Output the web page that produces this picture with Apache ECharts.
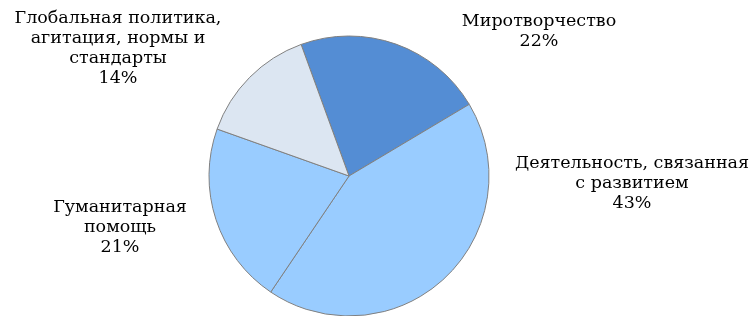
<!DOCTYPE html>
<html>
<head>
<meta charset="utf-8">
<script src="https://cdn.jsdelivr.net/npm/echarts@6/dist/echarts.min.js"></script>
<style>
  html, body { margin: 0; padding: 0; background: #fff; }
  #chart { width: 753px; height: 316px; }
</style>
</head>
<body>
<div id="chart"></div>
<script>
// slices, clockwise from the top
const categories = [
  'Миротворчество',
  'Деятельность, связанная\nс развитием',
  'Гуманитарная\nпомощь',
  'Глобальная политика,\nагитация, нормы и\nстандарты'
];
const shares = [22, 43, 21, 14];
const sliceColors = ['#548dd4', '#99ccff', '#99ccff', '#dce6f2'];

// label anchor (centre of text block) per slice
const labelSpots = [
  [539, 31],
  [632, 183],
  [120, 227],
  [118, 48]
];

const serif = 'DejaVu Serif';

const chart = echarts.init(document.getElementById('chart'));

chart.setOption({
  animation: false,
  textStyle: { fontFamily: serif },
  series: [
    {
      type: 'pie',
      center: [349, 176],
      radius: 140,
      startAngle: 110,
      clockwise: true,
      silent: true,
      itemStyle: {
        borderColor: '#808080',
        borderWidth: 1
      },
      label: {
        show: true,
        position: 'outside',
        formatter: (p) => p.name + '\n' + p.value + '%',
        fontFamily: serif,
        fontSize: 17.5,
        lineHeight: 20,
        color: '#000',
        align: 'center',
        overflow: 'none',
        edgeDistance: 0
      },
      labelLine: { show: false },
      labelLayout: (params) => {
        const spot = labelSpots[params.dataIndex];
        return {
          x: spot[0],
          y: spot[1],
          align: 'center',
          verticalAlign: 'middle'
        };
      },
      data: categories.map((name, i) => ({
        name: name,
        value: shares[i],
        itemStyle: { color: sliceColors[i] }
      }))
    }
  ]
});
</script>
</body>
</html>
